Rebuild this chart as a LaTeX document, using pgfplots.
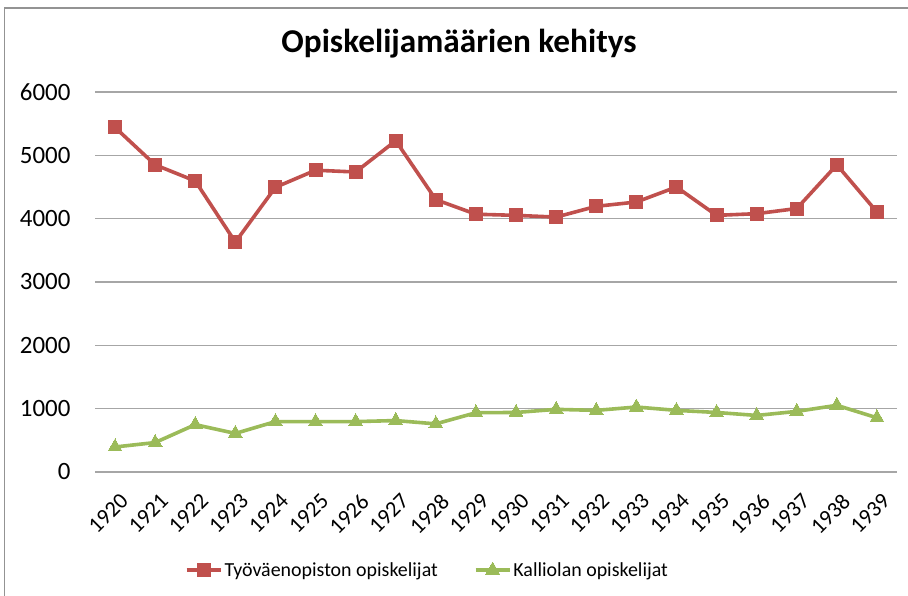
\documentclass[border=0pt]{standalone}
\usepackage{pgfplots}
\pgfplotsset{compat=1.18}
\usepackage{fontspec}
\setmainfont{Carlito}
\definecolor{redS}{HTML}{C0504D}
\definecolor{greenS}{HTML}{9BBB59}
\definecolor{gridc}{HTML}{A6A6A6}
\begin{document}
\begin{tikzpicture}
\useasboundingbox (0,0) rectangle (908bp,596bp);
\draw[color=gray!85, line width=1.5bp] (4.5bp,-2bp) -- (4.5bp,588bp) -- (912bp,588bp);
\node[anchor=base, font=\fontsize{33.4}{38}\selectfont\bfseries] at (459bp,543bp) {Opiskelijamäärien kehitys};
\begin{axis}[
  at={(95bp,124bp)}, anchor=south west,
  scale only axis, width=802bp, height=380bp,
  xmin=-0.5, xmax=19.5, ymin=0, ymax=6000,
  axis line style={draw=none},
  ytick={0,1000,...,6000},
  xtick={0,...,19},
  xticklabels={1920,1921,1922,1923,1924,1925,1926,1927,1928,1929,1930,1931,1932,1933,1934,1935,1936,1937,1938,1939},
  ymajorgrids, grid style={color=gridc, line width=1.2bp},
  major tick length=0pt,
  tick style={draw=none},
  /pgf/number format/assume math mode=true,
  /pgf/number format/1000 sep={},
  yticklabel style={font=\fontsize{25}{30}\selectfont, anchor=east, xshift=-21bp},
  xticklabel style={font=\fontsize{22.5}{27}\selectfont, inner sep=0pt, xshift=4bp, yshift=-20bp, rotate=45, anchor=north east},
  legend style={at={(0.4145,-0.258)}, anchor=center, draw=none, fill=none, legend columns=2, font=\fontsize{20}{24}\selectfont,
    /tikz/every even column/.append style={column sep=34bp}, inner sep=0pt, cells={anchor=west}},
  legend image code/.code={\draw[mark repeat=2,mark phase=2] plot coordinates {(0bp,0bp) (17bp,0bp) (34bp,0bp)};},
]
\addplot[color=redS, line width=3.6bp, mark=square*, mark size=6.5bp, mark options={solid, line width=0pt}] coordinates {
(0,5440) (1,4850) (2,4595) (3,3630) (4,4495) (5,4765) (6,4737) (7,5230) (8,4300) (9,4070)
(10,4052) (11,4025) (12,4195) (13,4263) (14,4500) (15,4052) (16,4079) (17,4160) (18,4850) (19,4105)};
\addlegendentry{Työväenopiston opiskelijat}
\addplot[color=greenS, line width=3.6bp, mark=triangle*, mark size=8bp, mark options={solid, line width=0pt}] coordinates {
(0,395) (1,465) (2,748) (3,609) (4,796) (5,796) (6,796) (7,812) (8,760) (9,936)
(10,940) (11,989) (12,973) (13,1026) (14,973) (15,940) (16,893) (17,957) (18,1053) (19,856)};
\addlegendentry{Kalliolan opiskelijat}
\end{axis}
\end{tikzpicture}
\end{document}
